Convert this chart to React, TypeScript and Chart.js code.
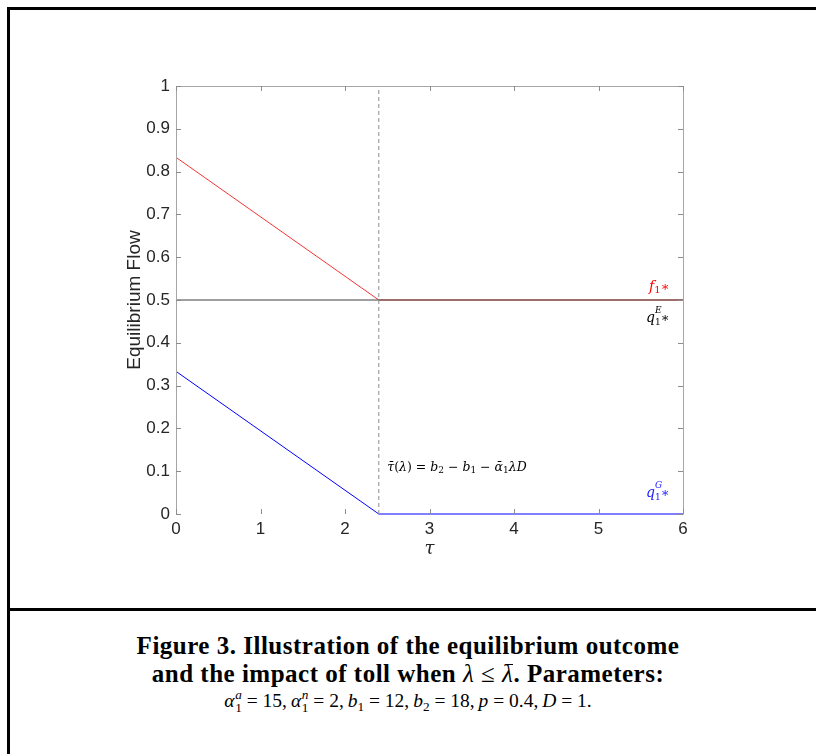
import React, { useEffect, useRef } from "react";
import { Chart, registerables } from "chart.js";

Chart.register(...registerables);

// ---- data ----
const tauPoints = [0, 2.4, 6];
const f1Values = [0.8333, 0.5, 0.5];
const qEValues = [0.5, 0.5, 0.5];
const qGValues = [0.3333, 0, 0];
const tauBar = 2.4;
const xTickValues = [0, 1, 2, 3, 4, 5, 6];
const yTickValues = [0, 0.1, 0.2, 0.3, 0.4, 0.5, 0.6, 0.7, 0.8, 0.9, 1];
const yTickLabels = ["0", "0.1", "0.2", "0.3", "0.4", "0.5", "0.6", "0.7", "0.8", "0.9", "1"];

type Run = { t: string; size: number; italic?: boolean; dy?: number; noAdvance?: boolean };

function drawRuns(ctx: CanvasRenderingContext2D, x: number, y: number, runs: Run[], color: string, align: "left" | "right") {
  const fam = "'DejaVu Serif', 'Liberation Serif', serif";
  let total = 0;
  const widths: number[] = [];
  runs.forEach((r) => {
    ctx.font = `${r.italic ? "italic " : ""}${r.size}px ${fam}`;
    const w = ctx.measureText(r.t).width;
    widths.push(w);
    if (!r.noAdvance) total += w;
  });
  let cx = align === "right" ? x - total : x;
  ctx.save();
  ctx.fillStyle = color;
  ctx.textBaseline = "alphabetic";
  ctx.textAlign = "left";
  runs.forEach((r, i) => {
    ctx.font = `${r.italic ? "italic " : ""}${r.size}px ${fam}`;
    ctx.fillText(r.t, cx, y + (r.dy || 0));
    if (!r.noAdvance) cx += widths[i];
  });
  ctx.restore();
}

const decorPlugin = {
  id: "decor",
  afterDatasetsDraw(chart: any) {
    const ctx: CanvasRenderingContext2D = chart.ctx;
    const { left, right, top, bottom } = chart.chartArea;
    const xs = chart.scales.x;
    const ys = chart.scales.y;
    ctx.save();
    // box
    ctx.strokeStyle = "#a6a6a6";
    ctx.lineWidth = 1;
    ctx.beginPath();
    ctx.moveTo(Math.round(left) + 0.5, Math.round(bottom) + 0.5);
    ctx.lineTo(Math.round(left) + 0.5, Math.round(top) + 0.5);
    ctx.lineTo(Math.round(right) + 0.5, Math.round(top) + 0.5);
    ctx.lineTo(Math.round(right) + 0.5, Math.round(bottom) + 0.5);
    ctx.stroke();
    // inward ticks
    ctx.strokeStyle = "#8c8c8c";
    ctx.beginPath();
    xTickValues.forEach((v) => {
      const px = Math.round(xs.getPixelForValue(v)) + 0.5;
      ctx.moveTo(px, bottom);
      ctx.lineTo(px, bottom - 5);
      ctx.moveTo(px, top);
      ctx.lineTo(px, top + 5);
    });
    yTickValues.forEach((v) => {
      const py = Math.round(ys.getPixelForValue(v)) + 0.5;
      ctx.moveTo(left, py);
      ctx.lineTo(left + 5, py);
      ctx.moveTo(right, py);
      ctx.lineTo(right - 5, py);
    });
    ctx.stroke();
    ctx.restore();

    // series labels
    const lx = xs.getPixelForValue(5.84);
    drawRuns(ctx, lx, ys.getPixelForValue(0.522), [
      { t: "f", size: 14, italic: true },
      { t: "1", size: 10, dy: 2 },
      { t: "\u2217", size: 13 },
    ], "#ff0000", "right");
    drawRuns(ctx, lx, ys.getPixelForValue(0.448), [
      { t: "q", size: 14, italic: true },
      { t: "E", size: 9, italic: true, dy: -9, noAdvance: true },
      { t: "1", size: 9, dy: 3 },
      { t: "\u2217", size: 13 },
    ], "#000000", "right");
    drawRuns(ctx, lx, ys.getPixelForValue(0.04), [
      { t: "q", size: 14, italic: true },
      { t: "G", size: 9, italic: true, dy: -9, noAdvance: true },
      { t: "1", size: 9, dy: 3 },
      { t: "\u2217", size: 13 },
    ], "#2020ff", "right");
    // threshold annotation
    drawRuns(ctx, xs.getPixelForValue(2.5), ys.getPixelForValue(0.1), [
      { t: "\u03C4\u0304", size: 12.5, italic: true },
      { t: "(", size: 12.5 },
      { t: "\u03BB", size: 12.5, italic: true },
      { t: ") = ", size: 12.5 },
      { t: "b", size: 12.5, italic: true },
      { t: "2", size: 9, dy: 2 },
      { t: " \u2212 ", size: 12.5 },
      { t: "b", size: 12.5, italic: true },
      { t: "1", size: 9, dy: 2 },
      { t: " \u2212 ", size: 12.5 },
      { t: "\u03B1\u0304", size: 12.5, italic: true },
      { t: "1", size: 9, dy: 2 },
      { t: "\u03BBD", size: 12.5, italic: true },
    ], "#000000", "left");

    // axis titles
    ctx.save();
    ctx.fillStyle = "#262626";
    ctx.font = "19px 'Liberation Sans', Arial, sans-serif";
    ctx.textAlign = "center";
    ctx.textBaseline = "middle";
    ctx.translate(135, (top + bottom) / 2);
    ctx.rotate(-Math.PI / 2);
    ctx.fillText("Equilibrium Flow", 0, 0);
    ctx.restore();
    ctx.save();
    ctx.fillStyle = "#262626";
    ctx.font = "italic 18px 'DejaVu Serif', serif";
    ctx.textAlign = "center";
    ctx.textBaseline = "middle";
    ctx.fillText("\u03C4", (left + right) / 2, 549);
    ctx.restore();
  },
};

function ChartView() {
  const ref = useRef<HTMLCanvasElement | null>(null);
  useEffect(() => {
    if (!ref.current) return;
    const pts = (ys: number[]) => tauPoints.map((x, i) => ({ x, y: ys[i] }));
    const chart = new Chart(ref.current, {
      type: "line",
      data: {
        datasets: [
          {
            label: "tau bar",
            data: [{ x: tauBar, y: 0 }, { x: tauBar, y: 1 }],
            borderColor: "#8c8c8c",
            borderWidth: 1,
            borderDash: [4, 3],
            pointRadius: 0,
            clip: false as any,
          },
          {
            label: "q1E*",
            data: pts(qEValues),
            borderColor: "#404040",
            borderWidth: 1,
            pointRadius: 0,
            clip: false as any,
          },
          {
            label: "f1*",
            data: pts(f1Values),
            borderColor: "rgba(240,0,0,0.8)",
            borderWidth: 1,
            pointRadius: 0,
            clip: false as any,
          },
          {
            label: "q1G*",
            data: pts(qGValues),
            borderColor: "#0000ff",
            borderWidth: 1,
            pointRadius: 0,
            clip: false as any,
          },
        ],
      },
      options: {
        animation: false,
        responsive: false,
        maintainAspectRatio: false,
        layout: { padding: { left: 0, right: 133, top: 86, bottom: 0 } },
        plugins: { legend: { display: false }, tooltip: { enabled: false } },
        scales: {
          x: {
            type: "linear",
            min: 0,
            max: 6,
            afterBuildTicks: (s: any) => {
              s.ticks = xTickValues.map((v) => ({ value: v }));
            },
            ticks: {
              color: "#262626",
              font: { family: "'Liberation Sans', Arial, sans-serif", size: 17 },
              padding: 5,
              maxRotation: 0,
              callback: (v: any) => String(v),
            },
            grid: { display: false, drawTicks: false },
            border: { display: false },
            afterFit: (s: any) => {
              s.height = 86;
            },
          },
          y: {
            type: "linear",
            min: 0,
            max: 1,
            afterBuildTicks: (s: any) => {
              s.ticks = yTickValues.map((v) => ({ value: v }));
            },
            ticks: {
              color: "#262626",
              font: { family: "'Liberation Sans', Arial, sans-serif", size: 17 },
              padding: 6,
              callback: (_v: any, i: number) => yTickLabels[i],
            },
            grid: { display: false, drawTicks: false },
            border: { display: false },
            afterFit: (s: any) => {
              s.width = 176;
            },
          },
        },
      },
      plugins: [decorPlugin],
    } as any);
    return () => chart.destroy();
  }, []);
  return <canvas ref={ref} width={816} height={600} style={{ position: "absolute", left: 0, top: 0, width: 816, height: 600 }} />;
}

const SS = ({ sup, sub }: { sup: string; sub: string }) => (
  <span
    style={{
      display: "inline-flex",
      flexDirection: "column",
      verticalAlign: "0.6em",
      fontSize: "0.68em",
      lineHeight: "0.95em",
      marginLeft: "0.05em",
    }}
  >
    <span style={{ fontStyle: "italic" }}>{sup}</span>
    <span>{sub}</span>
  </span>
);
const Sub = ({ c }: { c: string }) => (
  <span style={{ fontSize: "0.68em", verticalAlign: "-0.3em" }}>{c}</span>
);
const Bar = ({ c }: { c: string }) => (
  <span style={{ position: "relative", display: "inline-block" }}>
    {c}
    <span style={{ position: "absolute", left: "0.18em", right: "0.02em", top: "0.14em", height: "0.07em", background: "#000" }} />
  </span>
);

export default function App() {
  const serif = "'Liberation Serif', 'Times New Roman', serif";
  const th = "\u2009";
  return (
    <div style={{ position: "fixed", left: 0, top: 0, width: 816, height: 754, background: "#fff", overflow: "hidden" }}>
      <div style={{ position: "absolute", left: 7, top: 7, width: 820, height: 3, background: "#000" }} />
      <div style={{ position: "absolute", left: 7, top: 7, width: 3, height: 760, background: "#000" }} />
      <div style={{ position: "absolute", left: 7, top: 608, width: 820, height: 3, background: "#000" }} />
      <ChartView />
      <div
        style={{
          position: "absolute",
          left: 0,
          top: 632,
          width: 816,
          textAlign: "center",
          fontFamily: serif,
          color: "#000",
        }}
      >
        <div style={{ fontWeight: "bold", fontSize: 25, lineHeight: "28px", letterSpacing: "0.5px" }}>Figure 3. Illustration of the equilibrium outcome</div>
        <div style={{ fontWeight: "bold", fontSize: 25, lineHeight: "28px", letterSpacing: "0.5px" }}>
          and the impact of toll when <span style={{ fontWeight: "normal", fontStyle: "italic" }}>λ</span>
          <span style={{ fontWeight: "normal" }}> ≤ </span>
          <span style={{ fontWeight: "normal", fontStyle: "italic" }}><Bar c="λ" /></span>. Parameters:
        </div>
        <div style={{ fontSize: 19.5, lineHeight: "26px" }}>
          <i>α</i><SS sup="a" sub="1" /> = 15,{th}<i>α</i><SS sup="n" sub="1" /> = 2,{th}<i>b</i><Sub c="1" /> = 12,{th}<i>b</i><Sub c="2" /> = 18,{th}<i>p</i> = 0.4,{th}<i>D</i> = 1.
        </div>
      </div>
    </div>
  );
}
